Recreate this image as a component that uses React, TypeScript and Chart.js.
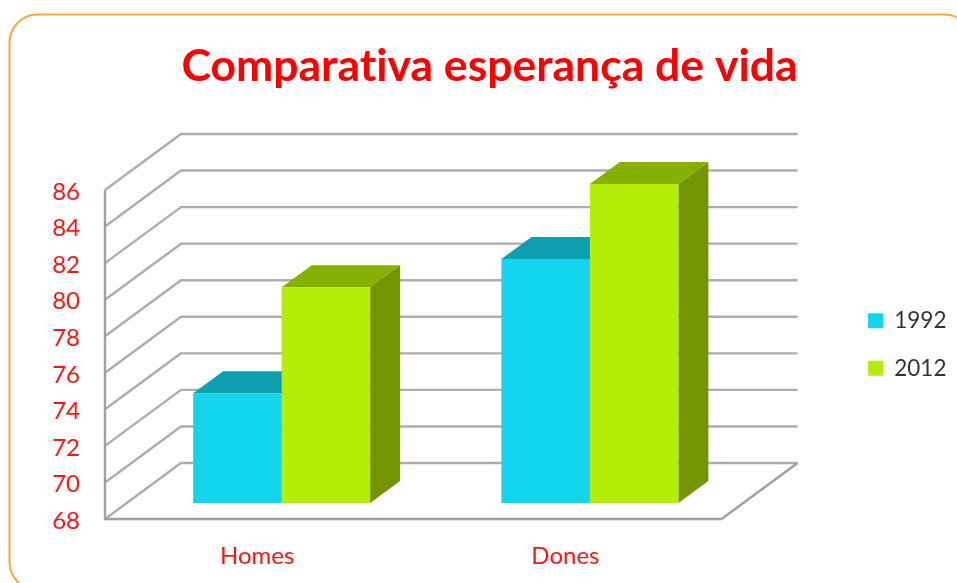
import React, { useEffect, useRef } from "react";
import { Chart, registerables } from "chart.js";

Chart.register(...registerables);

const categories = ["Homes", "Dones"];
const series1992 = [74.0, 81.35];
const series2012 = [79.8, 85.45];
const seriesNames = ["1992", "2012"];
const titleText = "Comparativa esperança de vida";
const yMin = 68;
const yMax = 86;
const yStep = 2;

const FONT = "Lato, Carlito, sans-serif";
const RED = "#ff1414";
const faces = [
  { front: "#13d5ec", top: "#0d9fb0", side: "#0d9fb0" },
  { front: "#b4ee08", top: "#87b004", side: "#739600" },
];

const wallDx = 76;
const wallDy = -56;
const barShiftX = 22.5;
const barShiftY = -16;
const barDx = 30;
const barDy = -22;
const legendPad = 25;

const frame = {
  id: "frame",
  beforeDraw(chart: any) {
    const c = chart.ctx;
    c.textRendering = "optimizeSpeed";
    c.save();
    c.fillStyle = "#ffffff";
    c.fillRect(0, 0, chart.width, chart.height);
    c.strokeStyle = "#f9a83c";
    c.lineWidth = 2;
    c.beginPath();
    c.roundRect(9.5, 14.5, 962.5, 575.5, 28);
    c.stroke();
    c.restore();
  },
};

const layoutShift = {
  id: "layoutShift",
  afterLayout(chart: any) {
    const l = chart.legend;
    const dx = 868 - legendPad - l.left;
    l.left += dx;
    l.right += dx;
    l.top += 53;
    l.bottom += 53;
    const t = chart.titleBlock;
    const tdx = 489.5 - (t.left + t.right) / 2;
    t.left += tdx;
    t.right += tdx;
  },
};

const walls = {
  id: "walls",
  beforeDatasetsDraw(chart: any) {
    const c = chart.ctx;
    const y = chart.scales.y;
    const { left, right, bottom, top } = chart.chartArea;
    c.save();
    c.strokeStyle = "#adadad";
    c.lineWidth = 2.4;
    c.lineJoin = "round";
    for (let v = yMin; v <= yMax; v += yStep) {
      const py = y.getPixelForValue(v);
      c.beginPath();
      c.moveTo(left, py);
      c.lineTo(left + wallDx, py + wallDy);
      c.lineTo(right + wallDx, py + wallDy);
      c.stroke();
    }
    c.strokeStyle = "#a0a0a0";
    c.beginPath();
    c.moveTo(left, top);
    c.lineTo(left, bottom);
    c.lineTo(right, bottom);
    c.lineTo(right + wallDx, bottom + wallDy);
    c.stroke();
    c.restore();
    c.save();
    c.translate(barShiftX, barShiftY);
    chart.data.datasets.forEach((_: any, di: number) => {
      chart.getDatasetMeta(di).data.forEach((b: any) => {
        const x0 = b.x - b.width / 2;
        const x1 = b.x + b.width / 2;
        c.fillStyle = faces[di].top;
        c.beginPath();
        c.moveTo(x0, b.y);
        c.lineTo(x0 + barDx, b.y + barDy);
        c.lineTo(x1 + barDx, b.y + barDy);
        c.lineTo(x1, b.y);
        c.closePath();
        c.fill();
        c.fillStyle = faces[di].side;
        c.beginPath();
        c.moveTo(x1, b.y);
        c.lineTo(x1 + barDx, b.y + barDy);
        c.lineTo(x1 + barDx, bottom + barDy);
        c.lineTo(x1, bottom);
        c.closePath();
        c.fill();
      });
    });
  },
  afterDatasetsDraw(chart: any) {
    chart.ctx.restore();
  },
};

export default function App() {
  const ref = useRef<HTMLCanvasElement>(null);
  useEffect(() => {
    const chart = new Chart(ref.current as HTMLCanvasElement, {
      type: "bar",
      data: {
        labels: categories,
        datasets: [
          { label: seriesNames[0], data: series1992, backgroundColor: faces[0].front },
          { label: seriesNames[1], data: series2012, backgroundColor: faces[1].front },
        ],
      },
      options: {
        responsive: false,
        animation: false,
        layout: { padding: { left: 0, right: 122, top: 0, bottom: 0 } },
        datasets: { bar: { categoryPercentage: 0.574, barPercentage: 1 } },
        plugins: {
          title: {
            display: true,
            text: titleText,
            color: "#ff0000",
            font: { family: FONT, size: 44.5, weight: "bold" },
            padding: { top: 40, bottom: 96.6 },
          },
          legend: {
            position: "right",
            labels: {
              color: "#333333",
              font: { family: FONT, size: 22.5 },
              boxWidth: 15,
              boxHeight: 15,
              padding: legendPad,
            },
          },
          tooltip: { enabled: false },
        },
        scales: {
          x: {
            grid: { display: false, drawTicks: false },
            border: { display: false },
            ticks: { color: RED, font: { family: FONT, size: 24 }, padding: 23, maxRotation: 0, labelOffset: -2 },
            afterFit: (s: any) => { s.height = 583 - 519; },
          },
          y: {
            min: yMin,
            max: yMax,
            grid: { display: false, drawTicks: false },
            border: { display: false },
            ticks: { stepSize: yStep, color: RED, font: { family: FONT, size: 24 }, padding: 25, labelOffset: 2 },
            afterFit: (s: any) => { s.width = 105; },
          },
        },
      },
      plugins: [frame, layoutShift, walls],
    } as any);
    return () => chart.destroy();
  }, []);
  return (
    <div style={{ position: "fixed", left: 0, top: 0, width: 957, height: 583 }}>
      <canvas ref={ref} width={957} height={583} style={{ display: "block" }} />
    </div>
  );
}
